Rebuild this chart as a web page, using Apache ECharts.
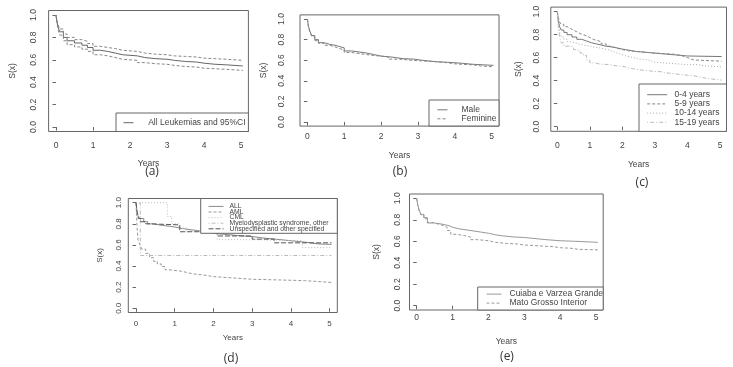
<!DOCTYPE html>
<html><head><meta charset="utf-8">
<script src="https://cdn.jsdelivr.net/npm/echarts@6/dist/echarts.min.js"></script>
<style>html,body{margin:0;padding:0;background:#fff}#c{width:733px;height:367px}</style>
</head><body><div id="c"></div>
<script>
// ---- tick values ----
const xTicks = [0, 1, 2, 3, 4, 5];
const yTicks = [0, 0.2, 0.4, 0.6, 0.8, 1.0];

// ---- (a) All leukemias with 95% CI : [years, S(x)] ----
const aEstimate = [[0,1],[0.02,0.95],[0.05,0.9],[0.1,0.85],[0.2,0.8],[0.3,0.77],[0.5,0.75],[0.7,0.73],[0.85,0.71],[1.0,0.685],[1.2,0.675],[1.4,0.66],[1.6,0.645],[1.8,0.64],[2.0,0.635],[2.2,0.62],[2.4,0.61],[2.7,0.605],[3.0,0.595],[3.2,0.585],[3.5,0.58],[3.8,0.57],[4.0,0.56],[4.3,0.555],[4.6,0.545],[5.05,0.545]];
const aUpper = [[0,1],[0.02,0.96],[0.05,0.92],[0.1,0.875],[0.2,0.83],[0.3,0.8],[0.5,0.78],[0.7,0.765],[0.85,0.745],[1.0,0.72],[1.2,0.71],[1.4,0.7],[1.6,0.685],[1.8,0.68],[2.0,0.675],[2.2,0.66],[2.4,0.65],[2.7,0.645],[3.0,0.635],[3.2,0.63],[3.5,0.625],[3.8,0.615],[4.0,0.61],[4.3,0.605],[4.6,0.595],[5.05,0.595]];
const aLower = [[0,1],[0.02,0.94],[0.05,0.88],[0.1,0.82],[0.2,0.77],[0.3,0.735],[0.5,0.715],[0.7,0.695],[0.85,0.675],[1.0,0.645],[1.2,0.635],[1.4,0.62],[1.6,0.605],[1.8,0.6],[2.0,0.595],[2.2,0.575],[2.4,0.565],[2.7,0.56],[3.0,0.55],[3.2,0.54],[3.5,0.535],[3.8,0.525],[4.0,0.52],[4.3,0.515],[4.6,0.505],[5.05,0.505]];

// ---- (b) by sex ----
const bMale = [[0,1],[0.03,0.93],[0.07,0.88],[0.12,0.84],[0.2,0.8],[0.3,0.77],[0.45,0.755],[0.6,0.745],[0.75,0.735],[0.85,0.72],[1.0,0.69],[1.2,0.68],[1.4,0.67],[1.6,0.655],[1.8,0.64],[2.0,0.63],[2.3,0.615],[2.6,0.61],[2.9,0.6],[3.1,0.585],[3.5,0.58],[3.8,0.575],[4.0,0.57],[4.2,0.56],[4.5,0.55],[5.05,0.55]];
const bFeminine = [[0,1],[0.03,0.92],[0.07,0.87],[0.12,0.83],[0.2,0.79],[0.3,0.765],[0.45,0.745],[0.6,0.73],[0.75,0.715],[0.85,0.7],[1.0,0.675],[1.2,0.665],[1.4,0.655],[1.6,0.645],[1.8,0.64],[2.0,0.63],[2.2,0.61],[2.5,0.6],[2.8,0.595],[3.0,0.585],[3.5,0.575],[3.8,0.565],[4.0,0.56],[4.2,0.555],[4.5,0.545],[4.7,0.535],[5.05,0.535]];

// ---- (c) by age group ----
const cAge0to4 = [[0,1],[0.03,0.92],[0.07,0.87],[0.12,0.84],[0.2,0.82],[0.3,0.8],[0.45,0.78],[0.6,0.76],[0.75,0.745],[0.9,0.73],[1.05,0.72],[1.2,0.71],[1.35,0.7],[1.5,0.69],[1.75,0.675],[2.0,0.665],[2.2,0.655],[2.4,0.65],[2.6,0.645],[2.8,0.64],[3.0,0.635],[3.2,0.63],[3.4,0.625],[3.6,0.62],[3.8,0.615],[4.0,0.61],[5.05,0.61]];
const cAge5to9 = [[0,1],[0.03,0.95],[0.07,0.91],[0.12,0.89],[0.2,0.87],[0.3,0.855],[0.4,0.84],[0.5,0.825],[0.6,0.81],[0.7,0.8],[0.8,0.79],[0.9,0.775],[1.0,0.76],[1.1,0.75],[1.2,0.74],[1.35,0.72],[1.5,0.7],[1.65,0.685],[1.8,0.67],[2.0,0.66],[2.2,0.655],[2.4,0.65],[2.6,0.645],[2.8,0.64],[3.0,0.635],[3.3,0.63],[3.6,0.62],[3.8,0.61],[3.9,0.6],[4.0,0.59],[4.1,0.58],[4.2,0.57],[5.05,0.57]];
const cAge10to14 = [[0,1],[0.03,0.9],[0.07,0.82],[0.12,0.78],[0.2,0.76],[0.3,0.74],[0.4,0.725],[0.6,0.71],[0.8,0.7],[1.0,0.69],[1.2,0.68],[1.4,0.665],[1.6,0.65],[1.75,0.635],[1.9,0.62],[2.05,0.61],[2.2,0.6],[2.35,0.59],[2.5,0.58],[2.8,0.57],[2.9,0.56],[3.0,0.55],[3.5,0.54],[4.0,0.54],[4.3,0.53],[4.5,0.52],[5.05,0.52]];
const cAge15to19 = [[0,1],[0.03,0.88],[0.07,0.78],[0.12,0.73],[0.2,0.7],[0.4,0.69],[0.5,0.67],[0.6,0.66],[0.7,0.64],[0.8,0.62],[0.9,0.58],[1.0,0.555],[1.15,0.545],[1.3,0.54],[1.6,0.53],[1.8,0.525],[2.0,0.52],[2.1,0.51],[2.2,0.5],[2.4,0.495],[2.5,0.487],[2.8,0.48],[3.0,0.478],[3.2,0.47],[3.3,0.46],[3.6,0.45],[3.9,0.443],[4.2,0.43],[4.4,0.42],[4.6,0.405],[5.05,0.405]];

// ---- (d) by leukemia type ----
const dALL = [[0,1],[0.02,0.93],[0.05,0.88],[0.1,0.85],[0.2,0.82],[0.3,0.8],[0.45,0.79],[0.6,0.78],[0.8,0.77],[1.0,0.755],[1.2,0.74],[1.5,0.725],[1.8,0.71],[2.0,0.7],[2.3,0.69],[2.6,0.68],[3.0,0.665],[3.3,0.655],[3.6,0.64],[4.0,0.625],[4.4,0.61],[4.7,0.605],[5.05,0.605]];
const dAML = [[0,1],[0.01,0.9],[0.03,0.75],[0.05,0.65],[0.1,0.6],[0.15,0.56],[0.25,0.52],[0.35,0.48],[0.45,0.445],[0.55,0.42],[0.65,0.395],[0.75,0.365],[0.85,0.35],[1.2,0.335],[1.35,0.325],[1.5,0.315],[1.75,0.3],[2.0,0.285],[2.6,0.275],[3.0,0.262],[4.35,0.245],[5.05,0.245]];
const dCML = [[0,1],[0.81,0.87],[0.92,0.8],[1.1,0.76],[1.3,0.73],[2.1,0.65],[3.0,0.64],[4.3,0.575],[5.05,0.575]];
const dMyelodysplastic = [[0,1],[0.11,0.5],[5.05,0.5]];
const dUnspecified = [[0,1],[0.03,0.9],[0.06,0.85],[0.12,0.82],[0.25,0.8],[0.35,0.79],[1.13,0.725],[2.1,0.685],[3.0,0.655],[3.57,0.62],[5.05,0.62]];

// ---- (e) by region ----
const eCuiaba = [[0,1],[0.03,0.94],[0.07,0.89],[0.12,0.85],[0.2,0.82],[0.3,0.77],[0.5,0.76],[0.7,0.745],[0.9,0.73],[1.0,0.715],[1.2,0.705],[1.4,0.695],[1.6,0.685],[1.8,0.675],[2.0,0.66],[2.2,0.65],[2.4,0.64],[2.7,0.635],[3.0,0.625],[3.3,0.615],[3.6,0.605],[4.0,0.6],[4.4,0.59],[5.05,0.59]];
const eInterior = [[0,1],[0.03,0.93],[0.07,0.88],[0.12,0.845],[0.2,0.81],[0.3,0.775],[0.45,0.76],[0.6,0.745],[0.75,0.73],[0.85,0.7],[0.95,0.665],[1.1,0.655],[1.3,0.64],[1.5,0.615],[1.7,0.605],[2.0,0.59],[2.2,0.58],[2.5,0.575],[2.8,0.565],[3.0,0.56],[3.3,0.555],[3.5,0.55],[3.8,0.54],[4.0,0.535],[4.3,0.525],[4.5,0.52],[5.05,0.52]];

const panelLabels = ['(a)', '(b)', '(c)', '(d)', '(e)'];

// ---------------- layout / style ----------------
const FONT = 'Liberation Sans';
const TXT = '#444';
const AX = '#666';

const grids = [
  {left: 48.6, top: 10.5, width: 199.8, height: 121},
  {left: 300, top: 14.9, width: 199, height: 111.2},
  {left: 550.8, top: 7.1, width: 175.7, height: 124.2},
  {left: 128.3, top: 198.5, width: 209, height: 114},
  {left: 409.5, top: 194, width: 193.7, height: 116}
].map(g => Object.assign(g, {show: true, borderColor: AX, borderWidth: 1, backgroundColor: 'transparent', containLabel: false, outerBoundsMode: 'none'}));

// per-panel axis text placement
const axisCfg = [
  {xm: 10, ym: 10, xg: 27.5, yg: 31, fs: 8.5},
  {xm: 6, ym: 13.5, xg: 24.6, yg: 31.5, fs: 8.5},
  {xm: 10, ym: 9.8, xg: 29, yg: 27.2, fs: 8.5},
  {xm: 7, ym: 5.5, xg: 21.5, yg: 24.7, fs: 8},
  {xm: 3, ym: 7.5, xg: 27.4, yg: 28, fs: 8.5}
];

const xAxes = axisCfg.map((c, i) => ({
  type: 'value', gridIndex: i, min: -0.2, max: 5.2,
  axisLine: {show: false}, splitLine: {show: false},
  axisTick: {show: true, length: 3.5, lineStyle: {color: AX}, customValues: xTicks},
  axisLabel: {customValues: xTicks, margin: c.xm, fontSize: c.fs, color: TXT, fontFamily: FONT},
  name: 'Years', nameLocation: 'middle', nameGap: c.xg,
  nameTextStyle: {fontSize: c.fs, color: TXT, fontFamily: FONT}
}));
const yAxes = axisCfg.map((c, i) => ({
  type: 'value', gridIndex: i, min: -0.04, max: 1.04,
  axisLine: {show: false}, splitLine: {show: false},
  axisTick: {show: true, length: 3.5, lineStyle: {color: AX}, customValues: yTicks},
  axisLabel: {customValues: yTicks, margin: c.ym, rotate: 90, fontSize: c.fs, color: TXT, fontFamily: FONT,
              formatter: v => Number(v).toFixed(1)},
  name: 'S(x)', nameLocation: 'middle', nameGap: c.yg, nameRotate: 90,
  nameTextStyle: {fontSize: c.fs, color: TXT, fontFamily: FONT}
}));

function km(name, data, gi, color, type, width) {
  return {
    name, type: 'line', step: 'end', data, xAxisIndex: gi, yAxisIndex: gi,
    symbol: 'none', showSymbol: false, silent: true, animation: false,
    lineStyle: {color, width: width || 1, type: type || 'solid'},
    itemStyle: {color}, z: 2
  };
}
const DASH = [3, 2], DOT = [1, 2], DASHDOT = [1, 2, 4, 2], LONGDASH = [5, 2];

const series = [
  km('All Leukemias and 95%CI', aEstimate, 0, '#666'),
  km('Upper 95% CI', aUpper, 0, '#888', DASH),
  km('Lower 95% CI', aLower, 0, '#888', DASH),
  km('Male', bMale, 1, '#777'),
  km('Feminine', bFeminine, 1, '#888', DASH),
  km('0-4 years', cAge0to4, 2, '#777'),
  km('5-9 years', cAge5to9, 2, '#888', DASH),
  km('10-14 years', cAge10to14, 2, '#aaa', DOT),
  km('15-19 years', cAge15to19, 2, '#bbb', DASHDOT),
  km('ALL', dALL, 3, '#888'),
  km('AML', dAML, 3, '#999', DASH),
  km('CML', dCML, 3, '#bbb', DOT),
  km('Myelodysplastic syndrome, other', dMyelodysplastic, 3, '#bbb', DASHDOT),
  km('Unspecified and other specified', dUnspecified, 3, '#555', LONGDASH),
  km('Cuiaba e Varzea Grande', eCuiaba, 4, '#999'),
  km('Mato Grosso Interior', eInterior, 4, '#999', DASH)
];

function leg(names, left, top, iw, lh, fs, pad, gap) {
  return {
    data: names, orient: 'vertical', left, top, itemWidth: iw, itemHeight: 4, itemGap: gap || 0,
    padding: 0, selectedMode: false, z: 5,
    itemStyle: {opacity: 0, borderWidth: 0},
    lineStyle: {width: 1},
    textStyle: {fontSize: fs, lineHeight: lh, color: TXT, fontFamily: FONT, padding: [0, 0, 0, pad]}
  };
}
const legends = [
  leg(['All Leukemias and 95%CI'], 123, 117.7, 10, 10, 8.5, 9.7),
  leg(['Male', 'Feminine'], 437, 105.3, 10, 8, 8.5, 9),
  leg(['0-4 years', '5-9 years', '10-14 years', '15-19 years'], 646.7, 90.1, 20, 9.2, 8.5, 2.3),
  leg(['ALL', 'AML', 'CML', 'Myelodysplastic syndrome, other', 'Unspecified and other specified'], 208, 202.9, 15, 5.6, 6.8, 1, -1.4),
  leg(['Cuiaba e Varzea Grande', 'Mato Grosso Interior'], 486, 289.6, 15, 8.7, 8.5, 3)
];

const boxes = [
  [116, 113, 132.4, 18.5], [429, 100, 70, 26], [639, 84, 87.5, 47.4],
  [200.7, 198.5, 136.6, 34.8], [477.7, 287, 125.5, 23]
];
const labelPos = [[152, 172], [400, 172], [642, 182.5], [231, 359], [507, 357]];

const graphic = [];
boxes.forEach(b => graphic.push({
  type: 'rect', shape: {x: b[0], y: b[1], width: b[2], height: b[3]}, z: 3,
  style: {fill: '#fff', stroke: AX, lineWidth: 1}
}));
panelLabels.forEach((t, i) => graphic.push({
  type: 'text', x: labelPos[i][0], y: labelPos[i][1], z: 5,
  style: {text: t, fill: '#333', font: '12px "Open Sans"', textAlign: 'center', textVerticalAlign: 'middle'}
}));

const chart = echarts.init(document.getElementById('c'), null, {renderer: 'canvas'});
chart.setOption({
  animation: false, backgroundColor: '#fff',
  grid: grids, xAxis: xAxes, yAxis: yAxes, series, legend: legends, graphic
});
</script></body></html>
